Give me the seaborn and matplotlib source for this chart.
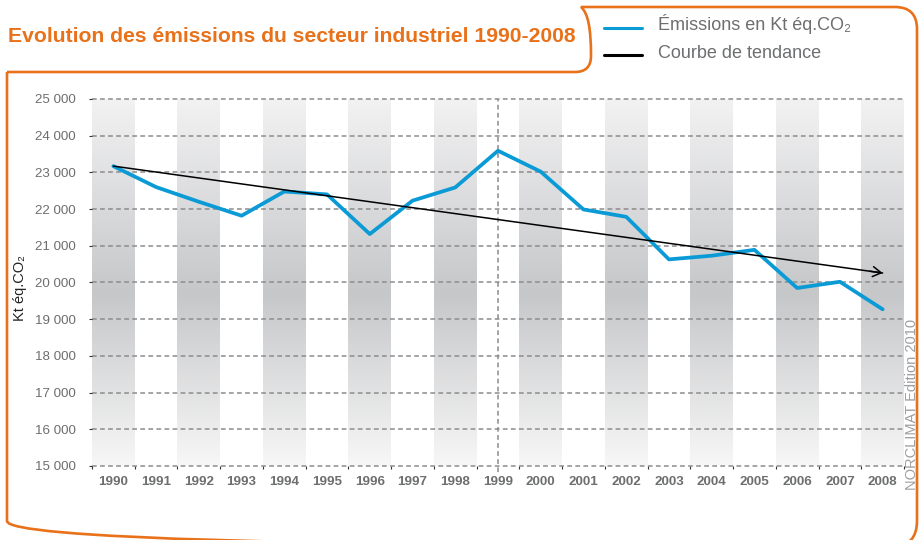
import numpy as np
import pandas as pd
import seaborn as sns
import matplotlib.pyplot as plt
from matplotlib.path import Path
from matplotlib.patches import PathPatch
from matplotlib.colors import LinearSegmentedColormap
from matplotlib.lines import Line2D

# ---- data ----
years = list(range(1990, 2009))
emissions = [23170, 22600, 22200, 21820, 22480, 22400, 21320, 22230, 22590, 23590,
             23020, 21990, 21790, 20630, 20730, 20890, 19850, 20020, 19270]
ytick_values = [15000, 16000, 17000, 18000, 19000, 20000, 21000, 22000, 23000, 24000, 25000]
ytick_labels = ["15 000", "16 000", "17 000", "18 000", "19 000", "20 000",
                "21 000", "22 000", "23 000", "24 000", "25 000"]
title = "Evolution des émissions du secteur industriel 1990-2008"
series_name = "Émissions en Kt éq.CO₂"
trend_name = "Courbe de tendance"
y_label = "Kt éq.CO₂"
source = "NORCLIMAT Edition 2010"

ORANGE = "#e8711a"
BLUE = "#0a9ad6"
GREY = "#6d6e70"

sns.set_theme(style="white")
plt.rcParams['font.family'] = ['Liberation Sans', 'DejaVu Sans']
plt.rcParams['lines.scale_dashes'] = False

W, H = 919, 540
fig = plt.figure(figsize=(W / 100, H / 100), dpi=100)
fig.patch.set_facecolor("white")


def P(x, y):
    return (x / W, 1 - y / H)


ax = fig.add_axes([92 / W, 1 - 466 / H, (904 - 92) / W, (466 - 99) / H])
ax.set_facecolor("white")

df = pd.DataFrame({"year": years, "value": emissions})
coef = np.polyfit(years, emissions, 1)
df["trend"] = np.polyval(coef, years)

# gradient bands
cmap = LinearSegmentedColormap.from_list(
    "band", [(0.0, "#f7f7f7"), (0.47, "#c6c7c9"), (1.0, "#f2f2f3")])
grad = np.linspace(0, 1, 256).reshape(-1, 1)
for i, yr in enumerate(years):
    if i % 2 == 0:
        ax.imshow(grad, extent=(yr - 0.5, yr + 0.5, ytick_values[0], ytick_values[-1]),
                  cmap=cmap, aspect="auto", origin="lower", vmin=0, vmax=1, zorder=0)

dash = (0, (3.4, 2.4))
ax.set_yticks(ytick_values)
ax.set_yticklabels(ytick_labels)
ax.yaxis.grid(True, linestyle=dash, color="#8c8c8c", lw=1.1)
ax.xaxis.grid(False)
ax.set_axisbelow(True)
ax.axvline(1999, ymin=-0.015, ymax=1, linestyle=dash, color="#8c8c8c", lw=1.1,
           zorder=1, clip_on=False)

sns.lineplot(data=df, x="year", y="value", color=BLUE, lw=2.7, ax=ax, zorder=4)
sns.lineplot(data=df, x="year", y="trend", color="black", lw=1.1, ax=ax, zorder=5)
ax.annotate("", xy=(years[-1], df["trend"].iloc[-1]),
            xytext=(years[-1] - 0.3, np.polyval(coef, years[-1] - 0.3)),
            arrowprops=dict(arrowstyle="->,head_length=0.5,head_width=0.3",
                            lw=1.1, color="black", shrinkA=0, shrinkB=0),
            zorder=5)

ax.set_xlim(years[0] - 0.5, years[-1] + 0.5)
ax.set_ylim(ytick_values[0], ytick_values[-1])
for gl in ax.get_ygridlines():
    gl.set_clip_on(False)

ax.set_xticks(years)
ax.set_xticklabels([str(y) for y in years], fontweight="bold", color=GREY, fontsize=9.6)
ax.set_xticks(np.arange(years[0] - 0.5, years[-1] + 1.0, 1.0), minor=True)
ax.tick_params(axis="x", which="major", length=0, pad=7)
ax.tick_params(axis="x", which="minor", length=2.2, width=0.8, color="#333333",
               direction="out", bottom=True)
ax.tick_params(axis="y", length=2.2, width=0.8, color="#333333", pad=9.4,
               labelsize=9.6, labelcolor=GREY, left=True)
ax.set_xlabel("")
ax.set_ylabel("")
for s in ax.spines.values():
    s.set_visible(False)

# y label
fig.text(20 / W, 1 - 288 / H, y_label, rotation=90, ha="center", va="center",
         fontsize=10.5, color="#222222")

# title
fig.text(8 / W, 1 - 37 / H, title, fontsize=15.2, fontweight="bold", color=ORANGE,
         va="center", ha="left")

# legend
fig.add_artist(Line2D([604 / W, 642 / W], [1 - 28 / H] * 2, color=BLUE, lw=2.2,
                      transform=fig.transFigure))
fig.add_artist(Line2D([604 / W, 642 / W], [1 - 55 / H] * 2, color="black", lw=2.2,
                      transform=fig.transFigure))
fig.text(658 / W, 1 - 24 / H, series_name, fontsize=13, color=GREY, va="center")
fig.text(658 / W, 1 - 53 / H, trend_name, fontsize=13, color=GREY, va="center")

# source text
fig.text(916 / W, 1 - 490 / H, source, rotation=90, rotation_mode="anchor",
         ha="left", va="baseline", fontsize=10.5, color="#9d9fa2")

# orange frame
verts = [P(7, 72), P(575, 72), P(591, 72), P(591, 56),
         P(591, 28), P(588, 13), P(581, 7),
         P(895, 7), P(917, 7), P(917, 29),
         P(917, 521), P(917, 547), P(891, 547),
         P(33, 547), P(7, 547), P(7, 521),
         P(7, 72), P(7, 72)]
codes = [Path.MOVETO, Path.LINETO, Path.CURVE3, Path.CURVE3,
         Path.CURVE4, Path.CURVE4, Path.CURVE4,
         Path.LINETO, Path.CURVE3, Path.CURVE3,
         Path.LINETO, Path.CURVE3, Path.CURVE3,
         Path.LINETO, Path.CURVE3, Path.CURVE3,
         Path.LINETO, Path.CLOSEPOLY]
fig.add_artist(PathPatch(Path(verts, codes), facecolor="none", edgecolor=ORANGE,
                         lw=1.9, transform=fig.transFigure, clip_on=False))

fig.savefig("out.png", dpi=100)
